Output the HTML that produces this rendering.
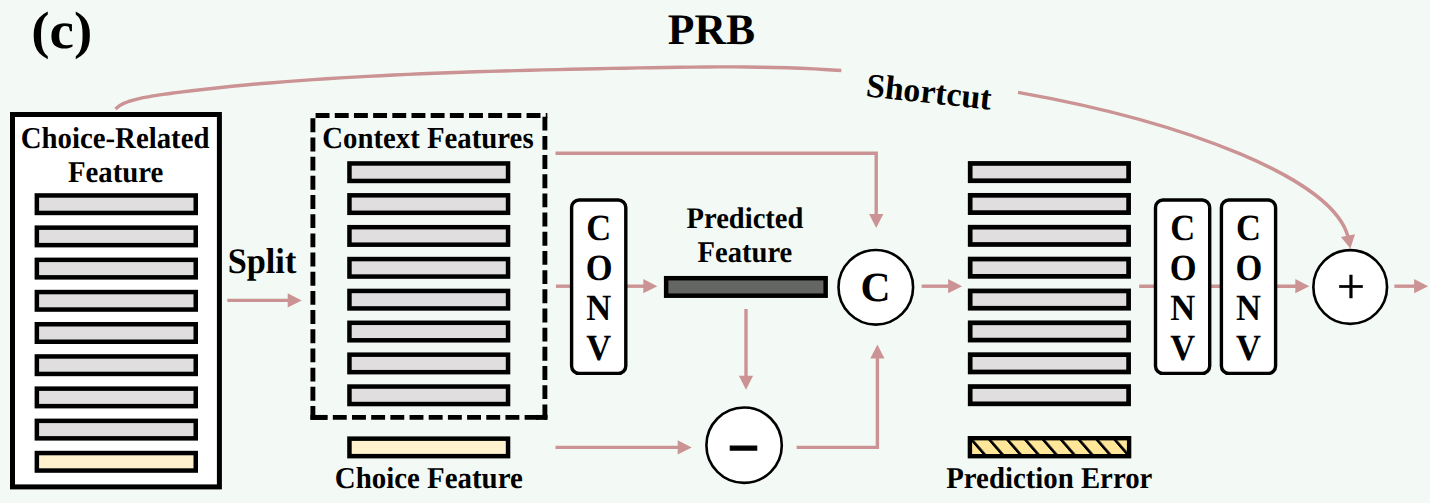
<!DOCTYPE html>
<html><head><meta charset="utf-8">
<title>PRB</title>
<style>
html,body{margin:0;padding:0;background:#f3faf5;}
body{width:1430px;height:503px;overflow:hidden;}
svg{display:block;}
text{font-family:"Liberation Serif","Times New Roman",serif;font-weight:bold;fill:#000;text-rendering:geometricPrecision;}
.bar{fill:#e0dede;stroke:#000;stroke-width:4.5;}
.ybar{fill:#fff2cc;stroke:#000;stroke-width:4.5;}
.ln{fill:none;stroke:#cb9394;stroke-width:3.4;}
.ah{fill:#cb9394;stroke:none;}
.box{fill:#fff;stroke:#000;stroke-width:3.4;}
.circ{fill:#fff;stroke:#000;stroke-width:2.6;}
.dash{fill:none;stroke:#000;stroke-width:4.9;stroke-dasharray:13.9 5.28;}
</style></head><body>
<svg width="1430" height="503" viewBox="0 0 1430 503">
<rect width="1430" height="503" fill="#f3faf5"/>
<text x="31.3" y="47.9" font-size="52.5" textLength="61" lengthAdjust="spacingAndGlyphs">(c)</text>
<text x="711.4" y="44.4" font-size="43.6" text-anchor="middle">PRB</text>

<path class="ln" stroke-linejoin="round" d="M115.5,109.0 L119.4,105.7 L123.8,103.3 L128.5,101.5 L133.3,100.1 L138.2,98.8 L143.2,97.7 L148.1,96.8 L153.1,95.9 L158.1,95.1 L163.2,94.4 L168.2,93.7 L173.2,93.0 L178.3,92.4 L191.7,90.7 L205.2,89.2 L218.7,87.7 L232.2,86.3 L245.6,85.0 L259.1,83.8 L272.6,82.7 L286.1,81.6 L299.7,80.6 L313.2,79.6 L326.7,78.7 L340.2,77.9 L353.7,77.1 L367.3,76.4 L380.8,75.7 L394.3,75.0 L407.9,74.4 L421.4,73.8 L434.9,73.2 L448.5,72.7 L462.0,72.2 L475.6,71.8 L489.1,71.4 L502.6,71.0 L516.2,70.6 L529.7,70.2 L543.3,69.9 L556.8,69.6 L570.4,69.3 L583.9,69.0 L597.5,68.7 L611.0,68.4 L624.6,68.2 L638.1,67.9 L651.7,67.7 L665.3,67.5 L678.8,67.3 L692.4,67.1 L705.9,67.0 L719.5,66.9 L733.0,66.9 L746.5,67.0 L760.1,67.2 L773.6,67.5 L787.2,67.8 L800.7,68.3 L814.2,68.9 L827.8,69.7 L841.3,70.5"/>
<path class="ln" d="M1018.0,92.3 C1182.7,121.4 1337.3,178.9 1348.7,239.8"/>
<polygon class="ah" points="1350.4,248.6 1340.9,237.0 1355.0,234.3"/>
<text x="929" y="103" font-size="33.8" text-anchor="middle" transform="rotate(6.2 929 91.5)">Shortcut</text>
<rect x="12.5" y="114.5" width="206.9" height="372.4" fill="#fff" stroke="#000" stroke-width="5"/>
<text font-size="28.8" text-anchor="middle" transform="translate(115.1 148) scale(1 1.05)">Choice-Related</text>
<text font-size="28.8" text-anchor="middle" transform="translate(115.6 182) scale(1 1.05)">Feature</text>
<rect class="bar" x="36.85" y="195.45" width="158.9" height="17.5"/>
<rect class="bar" x="36.85" y="227.65" width="158.9" height="17.5"/>
<rect class="bar" x="36.85" y="259.85" width="158.9" height="17.5"/>
<rect class="bar" x="36.85" y="292.05" width="158.9" height="17.5"/>
<rect class="bar" x="36.85" y="324.25" width="158.9" height="17.5"/>
<rect class="bar" x="36.85" y="356.45" width="158.9" height="17.5"/>
<rect class="bar" x="36.85" y="388.65" width="158.9" height="17.5"/>
<rect class="bar" x="36.85" y="420.85" width="158.9" height="17.5"/>
<rect class="ybar" x="36.85" y="453.05" width="158.9" height="17.5"/>
<text font-size="34.3" text-anchor="middle" transform="translate(262 273.1) scale(1 1.05)">Split</text>
<path class="ln" d="M227.3,300.4 H288.7"/>
<polygon class="ah" points="301.7,300.4 287.7,293.3 287.7,307.5"/>
<path class="dash" d="M315.6,115.5 H547.35"/>
<path class="dash" d="M544.9,116.7 V419.85"/>
<path class="dash" d="M313.65,417.4 H547.35"/>
<path class="dash" d="M312.9,118.3 V419.85"/>
<rect x="310.45" y="414.95" width="16.8" height="4.9" fill="#000"/>
<rect x="536" y="414.95" width="11.35" height="4.9" fill="#000"/>
<text x="0" y="0" font-size="28.8" text-anchor="middle" transform="translate(427.9 148.4) scale(1 1.06)">Context Features</text>
<rect class="bar" x="349.45" y="163.45" width="158.6" height="17.5"/>
<rect class="bar" x="349.45" y="195.32" width="158.6" height="17.5"/>
<rect class="bar" x="349.45" y="227.19" width="158.6" height="17.5"/>
<rect class="bar" x="349.45" y="259.06" width="158.6" height="17.5"/>
<rect class="bar" x="349.45" y="290.93" width="158.6" height="17.5"/>
<rect class="bar" x="349.45" y="322.80" width="158.6" height="17.5"/>
<rect class="bar" x="349.45" y="354.67" width="158.6" height="17.5"/>
<rect class="bar" x="349.45" y="386.54" width="158.6" height="17.5"/>
<rect class="ybar" x="349.45" y="438.65" width="158.6" height="17.5"/>
<text font-size="28.9" text-anchor="middle" transform="translate(428.8 487.7) scale(1 1.05)">Choice Feature</text>
<path class="ln" d="M555.5,153.3 H876.2 V215"/>
<polygon class="ah" points="876.2,227.9 869.1,213.9 883.3,213.9"/>
<path class="ln" d="M555.9,286.2 H572"/>
<path class="ln" d="M626.0,286.2 H644.3"/>
<polygon class="ah" points="657.3,286.2 643.3,279.1 643.3,293.3"/>
<path class="ln" d="M746,309 V377"/>
<polygon class="ah" points="746,389.8 738.9,375.8 753.1,375.8"/>
<path class="ln" d="M555.5,447.4 H678.7"/>
<polygon class="ah" points="691.7,447.4 677.7,440.3 677.7,454.5"/>
<path class="ln" d="M796.6,447.4 H877.4 V357"/>
<polygon class="ah" points="877.4,344.4 870.3,358.4 884.5,358.4"/>
<path class="ln" d="M921.6,286.2 H949.1"/>
<polygon class="ah" points="962.1,286.2 948.1,279.1 948.1,293.3"/>
<path class="ln" d="M1139.2,286.2 H1296.3"/>
<polygon class="ah" points="1309.3,286.2 1295.3,279.1 1295.3,293.3"/>
<path class="ln" d="M1394.4,286.2 H1415.1"/>
<polygon class="ah" points="1428.1,286.2 1414.1,279.1 1414.1,293.3"/>
<rect class="box" x="571.6" y="200" width="54.2" height="173.4" rx="7.5"/>
<text font-size="34.5" text-anchor="middle" transform="translate(598.7 240.1) scale(1 1.07)">C</text>
<text font-size="34.5" text-anchor="middle" transform="translate(599.2 280.0) scale(1 1.07)">O</text>
<text font-size="34.5" text-anchor="middle" transform="translate(598.7 320.0) scale(1 1.07)">N</text>
<text font-size="34.5" text-anchor="middle" transform="translate(598.7 360.0) scale(1 1.07)">V</text>
<text font-size="28.55" text-anchor="middle" transform="translate(745 227.5) scale(1 1.05)">Predicted</text>
<text font-size="28.6" text-anchor="middle" transform="translate(744.9 262.2) scale(1 1.05)">Feature</text>
<rect x="666.15" y="278.2" width="159.5" height="17.5" fill="#646664" stroke="#000" stroke-width="4.5"/>
<circle class="circ" cx="875.8" cy="287.3" r="37.3"/>
<text x="875.5" y="301.4" font-size="41.5" text-anchor="middle">C</text>
<circle class="circ" cx="744.1" cy="445.2" r="37.7"/>
<text x="743.4" y="467.2" font-size="57" stroke="#000" stroke-width="1.1" text-anchor="middle">−</text>
<circle class="circ" cx="1350.2" cy="287" r="36.85"/>
<text x="1351" y="303.2" font-size="49.5" stroke="#000" stroke-width="0.5" text-anchor="middle" style="font-weight:normal">+</text>
<rect class="bar" style="stroke-width:4.7" x="970.2" y="163.45" width="158.4" height="17.3"/>
<rect class="bar" style="stroke-width:4.7" x="970.2" y="195.32" width="158.4" height="17.3"/>
<rect class="bar" style="stroke-width:4.7" x="970.2" y="227.19" width="158.4" height="17.3"/>
<rect class="bar" style="stroke-width:4.7" x="970.2" y="259.06" width="158.4" height="17.3"/>
<rect class="bar" style="stroke-width:4.7" x="970.2" y="290.93" width="158.4" height="17.3"/>
<rect class="bar" style="stroke-width:4.7" x="970.2" y="322.80" width="158.4" height="17.3"/>
<rect class="bar" style="stroke-width:4.7" x="970.2" y="354.67" width="158.4" height="17.3"/>
<rect class="bar" style="stroke-width:4.7" x="970.2" y="386.54" width="158.4" height="17.3"/>
<defs><pattern id="hatch" width="17.9" height="40" patternUnits="userSpaceOnUse" patternTransform="translate(970.3 440.2) skewX(41.1)">
<rect width="17.9" height="40" fill="#ffe699"/><rect width="3.6" height="40" fill="#000"/></pattern></defs>
<rect x="969.9" y="438.2" width="159.2" height="18" fill="url(#hatch)" stroke="#000" stroke-width="4.4"/>
<text font-size="28.8" text-anchor="middle" transform="translate(1049.3 487.7) scale(1 1.05)">Prediction Error</text>
<rect class="box" x="1155.5" y="200" width="54.2" height="173.4" rx="7.5"/>
<text font-size="34.5" text-anchor="middle" transform="translate(1182.6 240.1) scale(1 1.07)">C</text>
<text font-size="34.5" text-anchor="middle" transform="translate(1183.1 280.0) scale(1 1.07)">O</text>
<text font-size="34.5" text-anchor="middle" transform="translate(1182.6 320.0) scale(1 1.07)">N</text>
<text font-size="34.5" text-anchor="middle" transform="translate(1182.6 360.0) scale(1 1.07)">V</text>
<rect class="box" x="1221.4" y="200" width="54.2" height="173.4" rx="7.5"/>
<text font-size="34.5" text-anchor="middle" transform="translate(1248.5 240.1) scale(1 1.07)">C</text>
<text font-size="34.5" text-anchor="middle" transform="translate(1249.0 280.0) scale(1 1.07)">O</text>
<text font-size="34.5" text-anchor="middle" transform="translate(1248.5 320.0) scale(1 1.07)">N</text>
<text font-size="34.5" text-anchor="middle" transform="translate(1248.5 360.0) scale(1 1.07)">V</text>
</svg>
</body></html>
